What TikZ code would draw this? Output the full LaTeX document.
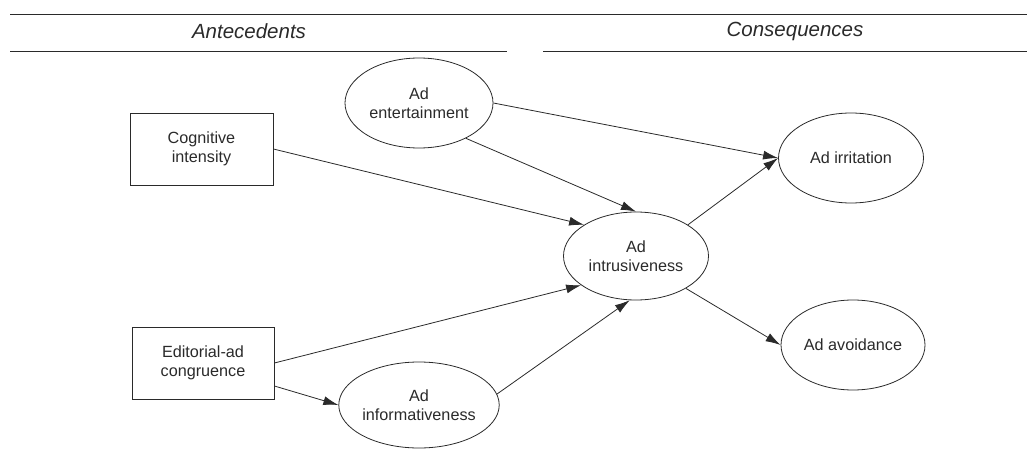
\documentclass[tikz,border=0pt]{standalone}
\usepackage{fontspec}
\setmainfont{Liberation Sans}
\usetikzlibrary{arrows.meta,shapes.geometric}
\definecolor{ink}{HTML}{2A2A2A}
\tikzset{
  conn/.style={draw=ink, line width=0.8pt, -{Latex[length=15pt,width=9pt]}},
  rule/.style={draw=ink, line width=0.9pt},
  construct/.style={draw=ink, line width=0.8pt, ellipse, inner sep=0pt,
    align=center, font=\fontsize{16.2}{19.5}\selectfont, text=ink},
  factor/.style={draw=ink, line width=0.8pt, rectangle, inner sep=0pt,
    align=center, font=\fontsize{16.2}{19.5}\selectfont, text=ink},
  heading/.style={font=\fontsize{20.5}{24}\selectfont\itshape, text=ink}
}
\begin{document}
\begin{tikzpicture}[x=1pt,y=-1pt]
  \useasboundingbox (0,0) rectangle (1027,449);

  % header rules and section titles
  \coordinate (topL) at (10,14);
  \coordinate (topR) at (1027,14);
  \coordinate (antL) at (10,51);
  \coordinate (antR) at (507,51);
  \coordinate (conL) at (543,51);
  \coordinate (conR) at (1027,51);
  \draw[rule] (topL) -- (topR);
  \draw[rule] (antL) -- (antR);
  \draw[rule] (conL) -- (conR);
  \node[heading] (antecedents) at (249,31) {Antecedents};
  \node[heading] (consequences) at (795,31) {Consequences};

  % antecedent factors
  \node[factor, minimum width=143pt, minimum height=72pt] (cog) at (201.5,149) {Cognitive\\intensity};
  \node[factor, minimum width=142pt, minimum height=72pt] (edit) at (203,363) {Editorial-ad\\congruence};

  % latent constructs
  \node[construct, minimum width=148pt, minimum height=90pt] (ent) at (419,103) {Ad\\entertainment};
  \node[construct, minimum width=145pt, minimum height=86pt] (info) at (419,405) {Ad\\informativeness};
  \node[construct, minimum width=145pt, minimum height=88pt] (intr) at (636,256) {Ad\\intrusiveness};
  \node[construct, minimum width=145pt, minimum height=90pt] (irr) at (851,158) {Ad irritation};
  \node[construct, minimum width=144pt, minimum height=90pt] (avoid) at (853,345) {Ad avoidance};

  % paths
  \draw[conn] (ent.east) -- (irr.west);
  \draw[conn] (ent.-37) -- (intr.north);
  \draw[conn] (cog.east) -- (intr.149);
  \draw[conn] (edit.east) -- (intr.208);
  \draw[conn] ([yshift=-23pt]edit.east) -- (info.west);
  \draw[conn] (info.8) -- (intr.-98);
  \draw[conn] (intr.31) -- (irr.west);
  \draw[conn] (intr.-33) -- (avoid.west);
\end{tikzpicture}
\end{document}
